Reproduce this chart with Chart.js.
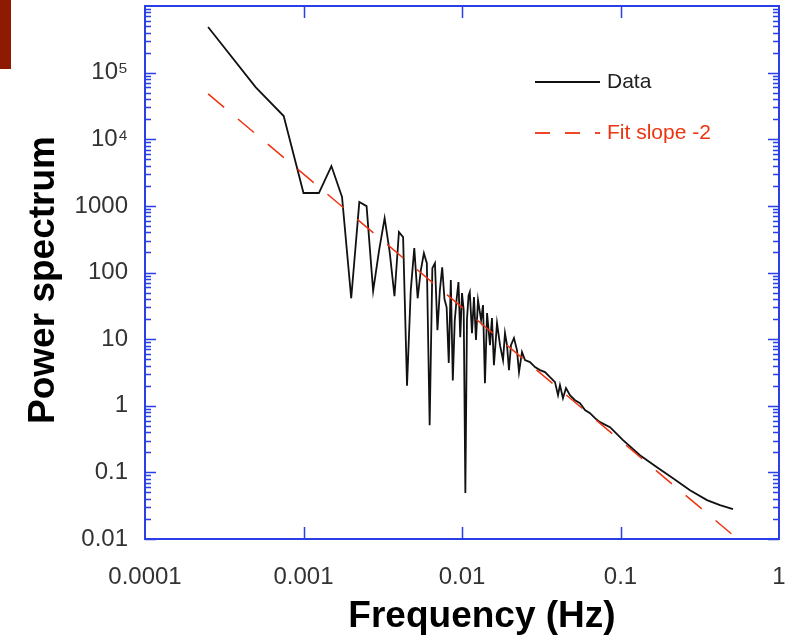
<!DOCTYPE html>
<html>
<head>
<meta charset="utf-8">
<title>Power spectrum</title>
<script src="https://cdn.jsdelivr.net/npm/chart.js@4.4.1/dist/chart.umd.min.js"></script>
<style>
  body { margin: 0; background: #fff; }
  .wrap { position: relative; width: 789px; height: 640px; }
  .corner { position: absolute; left: 0; top: 0; width: 11px; height: 69px; background: #8e1a02; }
</style>
</head>
<body>
<div class="wrap">
  <canvas id="spectrumChart" width="789" height="640"></canvas>
  <div class="corner"></div>
</div>
<script>
// measured spectrum (Hz, power)
const freqHz = [
  0.00025, 0.0005, 0.00075, 0.001, 0.00125, 0.0015, 0.00175, 0.002, 0.00225, 0.0025,
  0.00275, 0.003, 0.00325, 0.0035, 0.00375, 0.004, 0.00425, 0.0045, 0.00475, 0.005,
  0.00525, 0.0055, 0.00575, 0.006, 0.00625, 0.0065, 0.00675, 0.007, 0.00725, 0.0075,
  0.00775, 0.008, 0.00825, 0.0085, 0.00875, 0.009, 0.00925, 0.0095, 0.00975, 0.01,
  0.01025, 0.0105, 0.01075, 0.011, 0.0112, 0.01156, 0.0119, 0.01225, 0.01262, 0.0132,
  0.01357, 0.01396, 0.01439, 0.01502, 0.01545, 0.0159, 0.01663, 0.01737, 0.01815, 0.01867,
  0.01923, 0.01979, 0.02037, 0.02128, 0.02223, 0.02289, 0.0239, 0.02497, 0.02685, 0.02888,
  0.03104, 0.0334, 0.0359, 0.03862, 0.04034, 0.0415, 0.04335, 0.0453, 0.04797, 0.05164,
  0.05553, 0.0597, 0.06421, 0.06902, 0.07424, 0.08587, 0.1037, 0.1327, 0.1698, 0.2143,
  0.2745, 0.3513, 0.4243, 0.5127
];
const power = [
  484000, 60000, 22300, 1560, 1560, 3960, 1360, 41, 1140, 990,
  53, 217, 656, 200, 44, 405, 340, 2.0, 54, 232,
  41, 109, 195, 138, 0.51, 116, 138, 13.6, 54, 120,
  40, 30, 4.4, 77, 2.4, 19, 40, 72, 10.7, 49,
  27, 0.049, 20, 45, 51, 12.3, 42.8, 9.7, 38.5, 19.3,
  32.4, 2.18, 24.6, 8.1, 20.7, 4.07, 17.4, 8.1, 4.84, 12.3,
  8.1, 3.43, 8.1, 10.4, 6.84, 3.2, 6.38, 4.84, 4.52, 3.8,
  3.43, 3.2, 2.69, 2.26, 1.44, 2.04, 1.3, 1.84, 1.44, 1.21,
  1.09, 0.86, 0.774, 0.652, 0.567, 0.477, 0.304, 0.181, 0.1197, 0.0818,
  0.0541, 0.0383, 0.0322, 0.028
];

// slope -2 fit, end points
const fitFreqHz = [0.00025, 0.5];
const fitPower = [48000, 0.012];

const xTicks = [0.0001, 0.001, 0.01, 0.1, 1];
const xTickLabels = ['0.0001', '0.001', '0.01', '0.1', '1'];
const yTicks = [0.01, 0.1, 1, 10, 100, 1000, 1e4, 1e5, 1e6];
const yTickLabels = ['0.01', '0.1', '1', '10', '100', '1000', '10\u2074', '10\u2075', ''];

const AXIS_BLUE = '#2a3fe6';
const FIT_RED = '#ee3311';
const FONT = '"Liberation Sans", Arial, sans-serif';

// keep the plot box where the reference has it
function fixBox(size, key) {
  return s => {
    s[key] = size;
    s.paddingTop = s.paddingBottom = s.paddingLeft = s.paddingRight = 0;
  };
}

const frameAndLegend = {
  id: 'frameAndLegend',
  afterDraw(chart) {
    const { ctx, chartArea: a, scales: { x, y } } = chart;
    ctx.save();

    // blue box with inward ticks
    ctx.strokeStyle = AXIS_BLUE;
    ctx.lineWidth = 2;
    ctx.strokeRect(a.left, a.top, a.right - a.left, a.bottom - a.top);
    ctx.lineWidth = 1.5;
    ctx.beginPath();
    for (let d = -2; d < 6; d++) {
      for (let m = 1; m < 10; m++) {
        const py = Math.round(y.getPixelForValue(m * Math.pow(10, d))) + 0.5;
        const len = m === 1 ? 11 : 6;
        ctx.moveTo(a.left, py);
        ctx.lineTo(a.left + len, py);
        ctx.moveTo(a.right, py);
        ctx.lineTo(a.right - len, py);
      }
    }
    xTicks.slice(1, -1).forEach(v => {
      const px = Math.round(x.getPixelForValue(v)) + 0.5;
      ctx.moveTo(px, a.top);
      ctx.lineTo(px, a.top + 12);
      ctx.moveTo(px, a.bottom);
      ctx.lineTo(px, a.bottom - 12);
    });
    ctx.stroke();

    // legend
    ctx.lineWidth = 1.8;
    ctx.strokeStyle = '#111';
    ctx.beginPath();
    ctx.moveTo(535, 82);
    ctx.lineTo(600, 82);
    ctx.stroke();
    ctx.strokeStyle = FIT_RED;
    ctx.setLineDash([15, 15]);
    ctx.beginPath();
    ctx.moveTo(535, 133);
    ctx.lineTo(600, 133);
    ctx.stroke();
    ctx.setLineDash([]);

    ctx.font = '21px ' + FONT;
    ctx.textAlign = 'left';
    ctx.textBaseline = 'alphabetic';
    ctx.fillStyle = '#222';
    ctx.fillText('Data', 607, 88);
    ctx.fillStyle = FIT_RED;
    ctx.fillText('Fit slope -2', 607, 139);

    // axis titles
    ctx.fillStyle = '#000';
    ctx.font = 'bold 37px ' + FONT;
    ctx.textAlign = 'center';
    ctx.fillText('Frequency (Hz)', 482, 627);
    ctx.translate(54, 280);
    ctx.rotate(-Math.PI / 2);
    ctx.fillText('Power spectrum', 0, 0);

    ctx.restore();
  }
};

new Chart(document.getElementById('spectrumChart'), {
  type: 'scatter',
  data: {
    datasets: [
      {
        label: 'Fit slope -2',
        data: fitFreqHz.map((f, i) => ({ x: f, y: fitPower[i] })),
        showLine: true,
        borderColor: FIT_RED,
        borderWidth: 1.5,
        borderDash: [21, 18],
        pointRadius: 0,
        order: 0,
      },
      {
        label: 'Data',
        data: freqHz.map((f, i) => ({ x: f, y: power[i] })),
        showLine: true,
        borderColor: '#111',
        borderWidth: 1.8,
        pointRadius: 0,
        order: 1,
      },
    ],
  },
  options: {
    responsive: false,
    animation: false,
    layout: { padding: { top: 6, right: 10, left: 0, bottom: 0 } },
    plugins: {
      legend: { display: false },
      tooltip: { enabled: false },
    },
    scales: {
      x: {
        type: 'logarithmic',
        min: 0.0001,
        max: 1,
        afterBuildTicks: s => { s.ticks = xTicks.map(v => ({ value: v })); },
        afterFit: fixBox(101, 'height'),
        grid: { display: false, drawTicks: false },
        border: { display: false },
        ticks: {
          padding: 24,
          autoSkip: false,
          maxRotation: 0,
          color: '#333',
          font: { family: FONT, size: 24 },
          callback: v => xTickLabels[xTicks.indexOf(v)],
        },
      },
      y: {
        type: 'logarithmic',
        min: 0.01,
        max: 1e6,
        afterBuildTicks: s => { s.ticks = yTicks.map(v => ({ value: v })); },
        afterFit: fixBox(145, 'width'),
        grid: { display: false, drawTicks: false },
        border: { display: false },
        ticks: {
          padding: 17,
          autoSkip: false,
          color: '#333',
          font: { family: FONT, size: 24 },
          callback: v => yTickLabels[yTicks.indexOf(v)],
        },
      },
    },
  },
  plugins: [frameAndLegend],
});
</script>
</body>
</html>
